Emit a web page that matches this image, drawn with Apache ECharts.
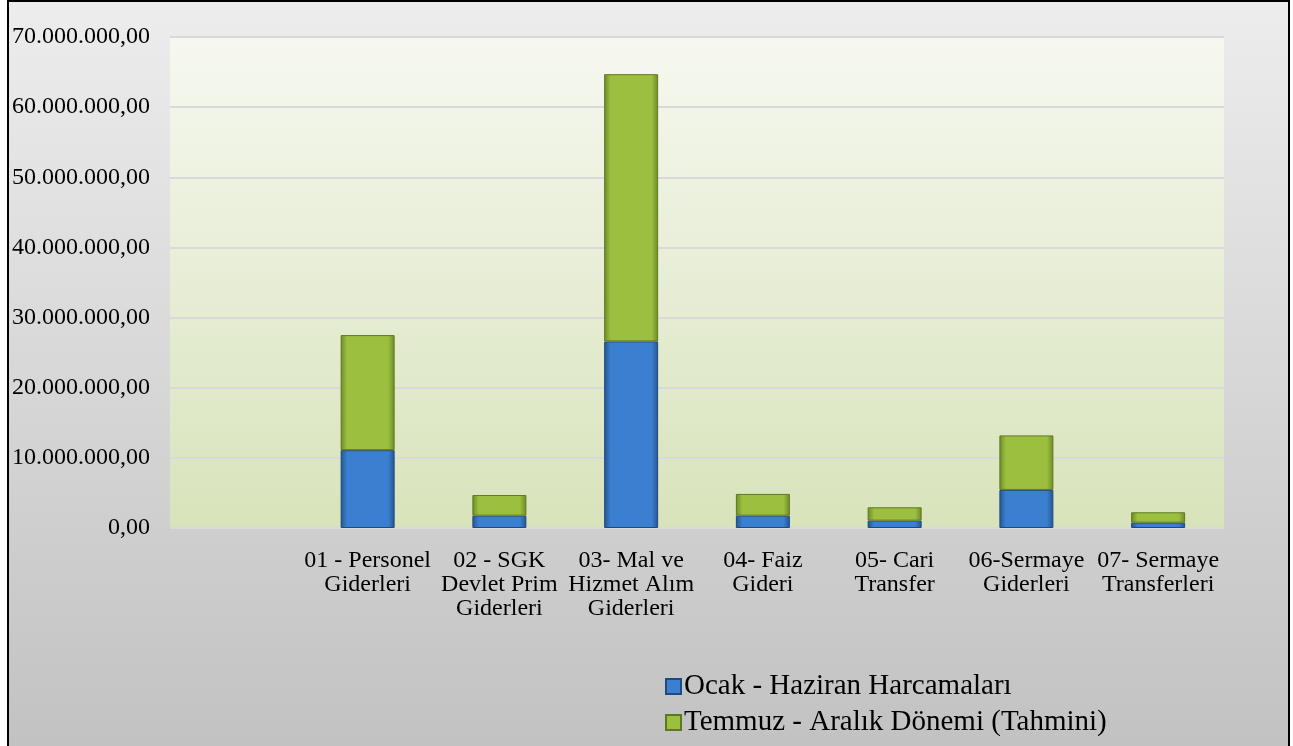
<!DOCTYPE html>
<html>
<head>
<meta charset="utf-8">
<title>Harcamalar</title>
<script src="https://cdn.jsdelivr.net/npm/echarts@6/dist/echarts.min.js"></script>
<style>
  html, body { margin: 0; padding: 0; background: #fff; }
  #frame { position: absolute; left: 7px; top: 0; width: 1283px; height: 750px;
           border: 2px solid #000; box-sizing: border-box; overflow: hidden; }
  #main { position: absolute; left: -9px; top: -2px; width: 1293px; height: 746px; }
</style>
</head>
<body>
<div id="frame"><div id="main"></div></div>
<script type="text/javascript">
var categories = ['', '01 - Personel\nGiderleri', '02 - SGK\nDevlet Prim\nGiderleri', '03- Mal ve\nHizmet Alım\nGiderleri',
                  '04- Faiz\nGideri', '05- Cari\nTransfer', '06-Sermaye\nGiderleri', '07- Sermaye\nTransferleri'];
var seriesNames = ['Ocak - Haziran Harcamaları', 'Temmuz - Aralık Dönemi (Tahmini)'];
var ocakHaziran = [null, 11100000, 1760000, 26600000, 1760000, 1050000, 5430000, 760000];
var temmuzAralik = [null, 16400000, 2940000, 38100000, 3100000, 1900000, 7770000, 1480000];
var yTicks = { min: 0, max: 70000000, interval: 10000000 };

function trFormat(v) {
  var s = Math.round(v).toString().replace(/\B(?=(\d{3})+(?!\d))/g, '.');
  return s + ',00';
}

function barFill(mid, dark) {
  return new echarts.graphic.LinearGradient(0, 0, 1, 0, [
    { offset: 0, color: dark },
    { offset: 0.12, color: mid },
    { offset: 0.88, color: mid },
    { offset: 1, color: dark }
  ]);
}

var chart = echarts.init(document.getElementById('main'));
var font = '"Liberation Serif", "Times New Roman", serif';
var option = {
  backgroundColor: new echarts.graphic.LinearGradient(0, 0, 0, 1, [
    { offset: 0, color: '#ededed' },
    { offset: 1, color: '#c2c2c2' }
  ]),
  animation: false,
  textStyle: { fontFamily: font },
  grid: {
    left: 170, top: 37, width: 1054, height: 491,
    show: true, borderWidth: 0,
    backgroundColor: new echarts.graphic.LinearGradient(0, 0, 0, 1, [
      { offset: 0, color: '#f6f8f0' },
      { offset: 1, color: '#d8e3bb' }
    ])
  },
  legend: {
    orient: 'vertical', left: 660, top: 667, itemGap: 7,
    icon: 'rect', itemWidth: 15, itemHeight: 15,
    textStyle: { fontFamily: font, fontSize: 29, color: '#000', padding: [0, 0, 0, -2] },
    data: seriesNames
  },
  xAxis: {
    type: 'category', data: categories,
    axisLine: { show: false }, axisTick: { show: false },
    axisLabel: { interval: 0, color: '#000', fontFamily: font, fontSize: 24, lineHeight: 24, margin: 21 }
  },
  yAxis: {
    type: 'value', min: yTicks.min, max: yTicks.max, interval: yTicks.interval,
    axisLine: { show: false }, axisTick: { show: false },
    splitLine: { lineStyle: { color: '#d9d9d9', width: 2 } },
    axisLabel: { color: '#000', fontFamily: font, fontSize: 24, margin: 20, formatter: trFormat }
  },
  series: [
    {
      name: seriesNames[0], type: 'bar', stack: 'total', barWidth: 54, data: ocakHaziran,
      itemStyle: { color: barFill('#3b7fd0', '#24558f'), borderColor: '#1f4a80', borderWidth: 1 }
    },
    {
      name: seriesNames[1], type: 'bar', stack: 'total', barWidth: 54, data: temmuzAralik,
      itemStyle: { color: barFill('#9cbf40', '#6d8a26'), borderColor: '#5f7820', borderWidth: 1 }
    }
  ]
};
chart.setOption(option);
</script>
</body>
</html>
